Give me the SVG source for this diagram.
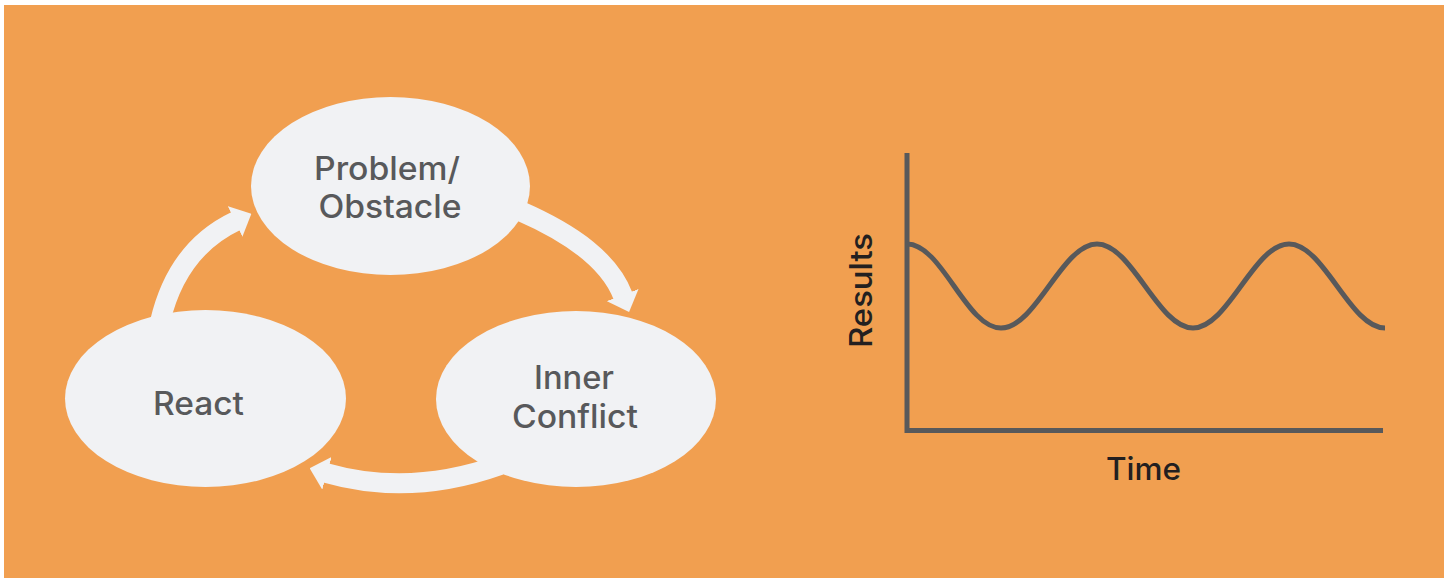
<svg xmlns="http://www.w3.org/2000/svg" width="1450" height="578" viewBox="0 0 1450 578">
  <defs>
    <style>
      .bg { fill: #F19F50; }
      .node { fill: #F1F2F4; }
      .label { font-family: Inter, "Open Sans", "Liberation Sans", sans-serif; font-size: 32px; font-weight: 500; fill: #58595B; text-anchor: middle; }
      .conn { fill: none; stroke: #F1F2F4; stroke-width: 20; stroke-linecap: butt; }
      .axis { fill: none; stroke: #58595B; stroke-width: 5; }
      .wave { fill: none; stroke: #58595B; stroke-width: 5; }
      .axlabel { font-family: Inter, "Open Sans", "Liberation Sans", sans-serif; font-size: 31px; font-weight: 500; fill: #231F20; text-anchor: middle; }
    </style>
    <marker id="head" viewBox="0 0 18 34" refX="1" refY="17" markerWidth="18" markerHeight="34" markerUnits="userSpaceOnUse" orient="auto">
      <path d="M0,0 L18,17 L0,34 z" fill="#F1F2F4"/>
    </marker>
  </defs>

  <rect class="bg" x="4" y="5" width="1440" height="573"/>

  <g id="connectors">
    <path class="conn" d="M160,322 Q177,249 236,221" marker-end="url(#head)"/>
    <path class="conn" d="M520,211 C575,235 610,262 623,296" marker-end="url(#head)"/>
    <path class="conn" d="M500,465 Q410,497 326,473" marker-end="url(#head)"/>
  </g>

  <g id="node-problem">
    <ellipse class="node" cx="390.5" cy="186" rx="139.5" ry="89"/>
    <text class="label" x="387" y="180" textLength="146" lengthAdjust="spacingAndGlyphs">Problem/</text>
    <text class="label" x="390" y="218" textLength="143" lengthAdjust="spacingAndGlyphs">Obstacle</text>
  </g>

  <g id="node-react">
    <ellipse class="node" cx="205.5" cy="398.5" rx="140.5" ry="88.5"/>
    <text class="label" x="198.5" y="415" textLength="91" lengthAdjust="spacingAndGlyphs">React</text>
  </g>

  <g id="node-inner">
    <ellipse class="node" cx="576" cy="399" rx="140" ry="88"/>
    <text class="label" x="574" y="389" textLength="80" lengthAdjust="spacingAndGlyphs">Inner</text>
    <text class="label" x="575" y="428" textLength="126" lengthAdjust="spacingAndGlyphs">Conflict</text>
  </g>

  <g id="chart">
    <path class="axis" d="M907,153 L907,430.5 L1383,430.5"/>
    <path class="wave" d="M907,244 C942,244 966,328 1001,328 C1036,328 1062,244 1097,244 C1132,244 1158,328 1193,328 C1228,328 1254,244 1289,244 C1324,244 1350,328 1385,328"/>
    <text class="axlabel" x="1143.5" y="480" textLength="75" lengthAdjust="spacingAndGlyphs">Time</text>
    <text class="axlabel" transform="translate(872,290.5) rotate(-90)" x="0" y="0" textLength="115" lengthAdjust="spacingAndGlyphs">Results</text>
  </g>
</svg>
